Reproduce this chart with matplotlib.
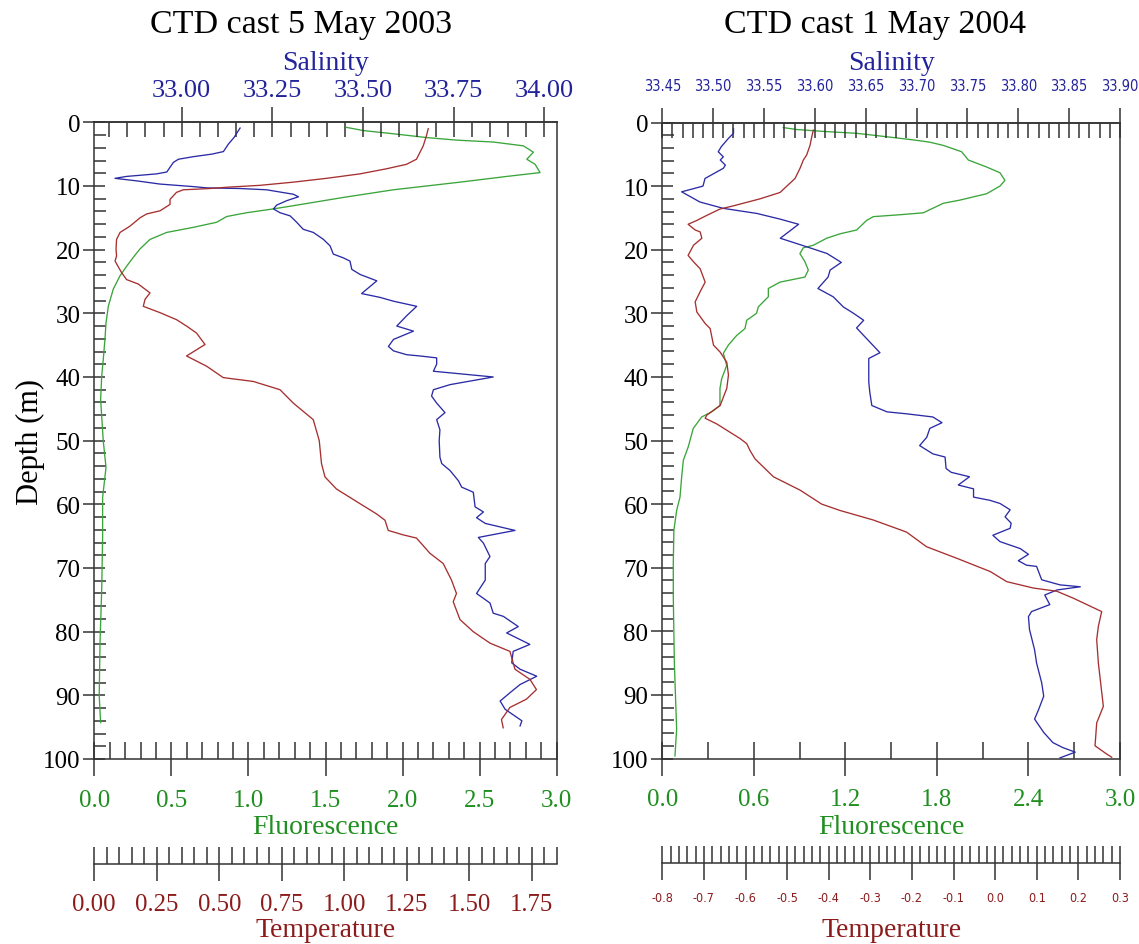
import matplotlib
matplotlib.use('Agg')
from matplotlib import pyplot as plt
from matplotlib.ticker import MultipleLocator, FormatStrFormatter

# ---- cast of 5 May 2003 ----
sal03_depth = [0.9, 2.4, 3.4, 4.6, 5.0, 5.4, 5.8, 6.3, 7.8, 8.1, 8.5, 8.8, 9.2, 9.7, 10.1, 10.3,
               10.4, 10.6, 11.3, 11.7, 12.3, 13.0, 13.6, 14.2, 14.7, 15.7, 16.8, 17.3, 18.4, 19.4,
               20.7, 21.3, 21.8, 23.1, 23.9, 24.9, 26.9, 27.5, 28.1, 28.9, 30.4, 32.0, 32.8, 34.1,
               35.2, 35.9, 36.5, 36.7, 37.0, 38.0, 39.1, 40.0, 41.2, 42.0, 43.0, 44.1, 45.6, 46.7,
               48.3, 50.0, 52.6, 53.6, 54.7, 56.3, 57.3, 58.1, 60.4, 61.2, 62.1, 63.0, 64.1, 65.2,
               66.1, 68.2, 69.3, 71.9, 74.0, 75.5, 77.1, 77.6, 79.2, 80.2, 82.0, 83.1, 84.9, 85.9,
               87.0, 88.3, 89.6, 90.9, 92.2, 94.0, 94.8]
sal03 = [33.161, 33.144, 33.129, 33.115, 33.083, 33.032, 32.991, 32.977, 32.959, 32.931, 32.848,
         32.816, 32.876, 32.940, 33.032, 33.069, 33.161, 33.234, 33.308, 33.322, 33.290, 33.262,
         33.253, 33.271, 33.299, 33.317, 33.335, 33.363, 33.391, 33.409, 33.418, 33.446, 33.464,
         33.469, 33.492, 33.538, 33.496, 33.547, 33.584, 33.648, 33.620, 33.593, 33.639, 33.584,
         33.570, 33.584, 33.620, 33.657, 33.703, 33.703, 33.694, 33.859, 33.740, 33.694, 33.689,
         33.703, 33.726, 33.703, 33.712, 33.710, 33.712, 33.717, 33.740, 33.763, 33.772, 33.804,
         33.809, 33.832, 33.813, 33.837, 33.919, 33.818, 33.832, 33.850, 33.837, 33.837, 33.813,
         33.850, 33.859, 33.887, 33.928, 33.896, 33.960, 33.914, 33.910, 33.933, 33.979, 33.933,
         33.905, 33.878, 33.892, 33.938, 33.933]

temp03_depth = [1.0, 2.1, 3.7, 5.8, 6.6, 7.3, 8.1, 8.8, 9.4, 9.9, 10.2, 10.4, 10.6, 11.0, 12.1,
                12.9, 13.9, 14.4, 15.0, 16.3, 17.3, 18.4, 19.9, 21.0, 21.8, 23.6, 24.7, 25.4, 26.8,
                27.8, 28.9, 29.9, 31.0, 32.0, 33.1, 34.9, 36.7, 38.3, 40.1, 40.7, 42.0, 44.1, 46.7,
                50.0, 53.6, 55.7, 57.6, 59.9, 61.5, 62.5, 64.1, 64.8, 65.3, 67.7, 69.3, 71.9, 74.0,
                75.3, 78.1, 80.0, 81.8, 83.1, 85.9, 87.5, 89.1, 90.6, 91.9, 93.8, 95.1]
temp03 = [1.336, 1.329, 1.316, 1.289, 1.249, 1.169, 1.063, 0.929, 0.796, 0.663, 0.529, 0.463,
          0.356, 0.329, 0.303, 0.303, 0.263, 0.209, 0.183, 0.143, 0.103, 0.089, 0.087, 0.089,
          0.083, 0.109, 0.129, 0.176, 0.223, 0.203, 0.196, 0.263, 0.329, 0.369, 0.409, 0.443,
          0.369, 0.449, 0.516, 0.636, 0.743, 0.796, 0.876, 0.900, 0.909, 0.923, 0.969, 1.063,
          1.129, 1.163, 1.176, 1.236, 1.289, 1.343, 1.396, 1.429, 1.449, 1.436, 1.463, 1.516,
          1.583, 1.663, 1.683, 1.743, 1.769, 1.729, 1.663, 1.629, 1.636]

fluor03_depth = [0.8, 1.3, 1.8, 2.4, 2.8, 3.1, 3.7, 4.7, 5.8, 6.6, 7.9, 8.5, 9.4, 10.6, 11.8, 13.1,
                 13.6, 14.2, 14.8, 15.7, 16.5, 17.3, 18.4, 19.9, 21.2, 22.6, 24.1, 26.2, 28.9,
                 31.5, 34.1, 37.3, 39.9, 43.5, 50.0, 54.2, 58.9, 65.1, 73.4, 81.8, 90.1, 94.3]
fluor03 = [1.637, 1.746, 1.940, 2.157, 2.351, 2.589, 2.784, 2.849, 2.806, 2.860, 2.892, 2.676,
           2.373, 1.940, 1.616, 1.291, 1.162, 0.989, 0.859, 0.794, 0.642, 0.469, 0.361, 0.296,
           0.253, 0.210, 0.167, 0.123, 0.091, 0.076, 0.069, 0.058, 0.048, 0.041, 0.058, 0.076,
           0.054, 0.054, 0.048, 0.037, 0.032, 0.041]

# ---- cast of 1 May 2004 ----
sal04_depth = [1.0, 1.7, 2.5, 3.8, 4.6, 5.4, 5.9, 6.7, 7.2, 8.8, 10.0, 10.9, 12.5, 13.5, 14.3, 15.2,
               16.0, 18.2, 19.7, 20.6, 22.0, 23.2, 24.3, 26.1, 27.4, 29.0, 30.0, 31.1, 32.3, 34.0,
               36.2, 37.1, 40.8, 42.4, 44.5, 45.5, 45.8, 46.3, 47.2, 48.1, 49.5, 50.8, 52.1, 52.6,
               54.4, 55.0, 55.7, 57.0, 57.6, 58.9, 59.4, 59.9, 60.9, 62.0, 63.0, 63.8, 64.9, 65.9,
               67.0, 67.9, 68.9, 69.6, 69.8, 71.9, 72.7, 73.0, 73.5, 74.3, 75.8, 76.9, 77.7, 79.7,
               82.9, 85.0, 88.1, 90.2, 92.3, 93.8, 95.9, 97.5, 98.3, 99.0, 99.9]
sal04 = [33.520, 33.520, 33.515, 33.508, 33.505, 33.510, 33.507, 33.512, 33.510, 33.492, 33.490,
         33.469, 33.487, 33.510, 33.543, 33.566, 33.584, 33.566, 33.595, 33.612, 33.626, 33.615,
         33.613, 33.603, 33.618, 33.628, 33.638, 33.648, 33.641, 33.651, 33.664, 33.653, 33.653,
         33.654, 33.656, 33.671, 33.690, 33.716, 33.725, 33.713, 33.710, 33.703, 33.716, 33.728,
         33.729, 33.734, 33.752, 33.741, 33.756, 33.756, 33.772, 33.782, 33.792, 33.787, 33.793,
         33.792, 33.775, 33.782, 33.802, 33.810, 33.800, 33.808, 33.818, 33.823, 33.841, 33.861,
         33.838, 33.826, 33.831, 33.813, 33.810, 33.811, 33.816, 33.818, 33.823, 33.825, 33.820,
         33.816, 33.825, 33.834, 33.844, 33.856, 33.841]

temp04_depth = [1.2, 2.3, 3.6, 5.1, 5.9, 7.2, 8.8, 11.0, 12.0, 13.1, 13.6, 14.6, 15.4, 16.0, 16.9,
                17.2, 18.2, 19.3, 20.9, 21.9, 23.0, 25.1, 26.6, 28.2, 29.8, 31.6, 32.4, 35.0, 36.1,
                37.7, 39.7, 41.8, 44.5, 46.0, 46.5, 47.4, 49.7, 50.5, 51.6, 52.9, 55.7, 57.8, 60.0,
                61.0, 62.5, 64.4, 66.7, 68.5, 70.6, 72.2, 73.2, 73.7, 74.8, 76.9, 79.2, 81.3, 85.0,
                91.8, 94.4, 98.0, 99.3, 99.8]
temp04 = [-0.437, -0.441, -0.445, -0.453, -0.461, -0.469, -0.481, -0.517, -0.565, -0.629, -0.661,
          -0.693, -0.717, -0.738, -0.721, -0.709, -0.705, -0.725, -0.738, -0.725, -0.709, -0.697,
          -0.709, -0.721, -0.717, -0.697, -0.685, -0.677, -0.661, -0.645, -0.641, -0.645, -0.661,
          -0.693, -0.697, -0.669, -0.613, -0.597, -0.589, -0.577, -0.533, -0.469, -0.417, -0.373,
          -0.293, -0.213, -0.165, -0.093, -0.012, 0.028, 0.092, 0.148, 0.188, 0.256, 0.248, 0.244,
          0.248, 0.260, 0.244, 0.240, 0.268, 0.280]

fluor04_depth = [0.8, 1.1, 1.4, 1.7, 2.3, 2.8, 3.1, 3.6, 4.6, 5.9, 7.0, 7.9, 9.1, 10.0, 11.2, 12.2,
                 12.7, 14.2, 14.5, 14.8, 15.4, 16.9, 17.5, 18.2, 19.3, 19.7, 20.6, 21.9, 23.2, 24.3,
                 25.1, 26.1, 27.4, 29.0, 30.0, 31.1, 32.4, 33.5, 35.0, 36.3, 38.2, 40.3, 41.8, 44.5,
                 45.5, 46.3, 48.1, 51.0, 53.1, 55.7, 58.9, 61.0, 64.1, 69.3, 74.5, 85.0, 95.4, 99.6]
fluor04 = [0.793, 0.880, 1.055, 1.274, 1.492, 1.667, 1.754, 1.842, 1.962, 2.006, 2.126, 2.213,
           2.246, 2.213, 2.126, 1.951, 1.842, 1.711, 1.558, 1.383, 1.339, 1.274, 1.165, 1.077,
           0.990, 0.924, 0.902, 0.935, 0.957, 0.935, 0.771, 0.695, 0.695, 0.629, 0.618, 0.553,
           0.542, 0.487, 0.433, 0.400, 0.422, 0.389, 0.378, 0.378, 0.323, 0.258, 0.203, 0.170,
           0.138, 0.127, 0.116, 0.094, 0.076, 0.072, 0.072, 0.079, 0.094, 0.083]

W, H = 1139, 945
SERIF = 'Liberation Serif'
INK = '#333333'
C_SAL, C_SAL_TXT = '#2b2ba6', '#23239c'
C_TMP, C_TMP_TXT = '#a63030', '#8c1c1c'
C_FLU, C_FLU_TXT = '#3aa53a', '#1f8f1f'

plt.rcParams['font.family'] = SERIF
plt.rcParams['axes.linewidth'] = 1.1
plt.rcParams['axes.edgecolor'] = INK


def px(x, y):
    return x / W, 1 - y / H


def draw_cast(fig, box, title, title_x, fl_step, sal_lim, sal_step, sal_minor, sal_font,
              t_lim, t_step, t_minor, t_font, t_fmt, t_pad, s_pad,
              sal_d, sal, tmp_d, tmp, flu_d, flu):
    l, b = px(box[0], box[3])
    ax = fig.add_axes([l, b, (box[2] - box[0]) / W, (box[3] - box[1]) / H])
    cx = (box[0] + box[2]) / 2

    # depth / fluorescence frame
    ax.set_ylim(100, 0)
    ax.set_xlim(0, 3)
    ax.yaxis.set_major_locator(MultipleLocator(10))
    ax.yaxis.set_minor_locator(MultipleLocator(2))
    ax.xaxis.set_major_locator(MultipleLocator(fl_step[0]))
    ax.xaxis.set_minor_locator(MultipleLocator(fl_step[1]))
    ax.xaxis.set_major_formatter(FormatStrFormatter('%.1f'))
    ax.tick_params(axis='y', which='major', direction='inout', length=16, width=1.1,
                   color=INK, labelsize=18, pad=2)
    ax.tick_params(axis='y', which='minor', direction='in', length=8.6, width=1.1, color=INK)
    ax.tick_params(axis='x', which='major', direction='inout', length=25, width=1.1,
                   color=INK, labelsize=18, labelcolor=C_FLU_TXT, pad=9)
    ax.tick_params(axis='x', which='minor', direction='in', length=12, width=1.1, color=INK)

    # salinity on top
    ax_s = ax.twiny()
    ax_s.set_xlim(*sal_lim)
    ax_s.xaxis.set_major_locator(MultipleLocator(sal_step))
    ax_s.xaxis.set_minor_locator(MultipleLocator(sal_minor))
    ax_s.xaxis.set_major_formatter(FormatStrFormatter('%.2f'))
    ax_s.tick_params(axis='x', which='major', direction='inout', length=22, width=1.1,
                     color=INK, labelcolor=C_SAL_TXT, pad=s_pad)
    ax_s.tick_params(axis='x', which='minor', direction='in', length=11, width=1.1, color=INK)
    for lab in ax_s.get_xticklabels():
        lab.set_fontproperties(sal_font)
    for sp in ('left', 'right', 'bottom'):
        ax_s.spines[sp].set_visible(False)

    # temperature scale hung below the frame
    ax_t = ax.twiny()
    ax_t.set_xlim(*t_lim)
    ax_t.xaxis.set_ticks_position('bottom')
    ax_t.xaxis.set_label_position('bottom')
    ax_t.spines['bottom'].set_position(('outward', 75.4))
    for sp in ('left', 'right', 'top'):
        ax_t.spines[sp].set_visible(False)
    ax_t.xaxis.set_major_locator(MultipleLocator(t_step))
    ax_t.xaxis.set_minor_locator(MultipleLocator(t_minor))
    ax_t.xaxis.set_major_formatter(FormatStrFormatter(t_fmt))
    ax_t.tick_params(axis='x', which='major', direction='inout', length=25, width=1.1,
                     color=INK, labelcolor=C_TMP_TXT, pad=t_pad)
    ax_t.tick_params(axis='x', which='minor', direction='in', length=12, width=1.1, color=INK)
    for lab in ax_t.get_xticklabels():
        lab.set_fontproperties(t_font)

    ax.plot(flu, flu_d, color=C_FLU, lw=0.95)
    ax_t.plot(tmp, tmp_d, color=C_TMP, lw=0.95)
    ax_s.plot(sal, sal_d, color=C_SAL, lw=0.95)

    fig.text(*px(title_x, 25), title, ha='center', va='center', fontsize=24.5, color='black')
    fig.text(*px(cx, 63), 'Salinity', ha='center', va='center', fontsize=20, color=C_SAL_TXT)
    fig.text(*px(cx, 828), 'Fluorescence', ha='center', va='center', fontsize=20,
             color=C_FLU_TXT)
    fig.text(*px(cx, 931), 'Temperature', ha='center', va='center', fontsize=20,
             color=C_TMP_TXT)
    return ax


fig = plt.figure(figsize=(W / 100, H / 100), dpi=100)

draw_cast(fig, (94.3, 123.3, 556.7, 760), 'CTD cast 5 May 2003', 301, (0.5, 0.1),
          (32.759, 34.034), 0.25, 0.05, {'family': SERIF, 'size': 19},
          (0, 1.85), 0.25, 0.05, {'family': SERIF, 'size': 17.8}, '%.2f', 8.4, 4,
          sal03_depth, sal03, temp03_depth, temp03, fluor03_depth, fluor03)

# the 2004 scales are crowded, so their numbers use a condensed sans face
draw_cast(fig, (662.3, 123.5, 1120, 759.5), 'CTD cast 1 May 2004', 875, (0.6, 0.3),
          (33.45, 33.90), 0.05, 0.01,
          {'family': 'DejaVu Sans', 'stretch': 'condensed', 'size': 10.5},
          (-0.8, 0.3), 0.1, 0.02,
          {'family': 'DejaVu Sans', 'stretch': 'condensed', 'size': 9}, '%.1f', 7.5, 10.5,
          sal04_depth, sal04, temp04_depth, temp04, fluor04_depth, fluor04)

fig.text(*px(30, 442), 'Depth (m)', rotation=90, ha='center', va='center', fontsize=22)

fig.savefig('out.png', dpi=100)
